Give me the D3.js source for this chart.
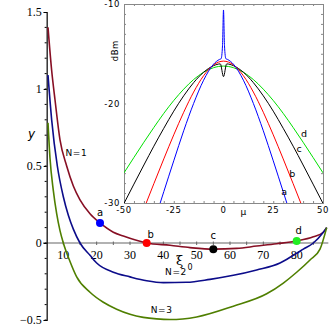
<!DOCTYPE html>
<html>
<head>
<meta charset="utf-8">
<script src="https://cdn.jsdelivr.net/npm/d3@7"></script>
<style>
  body { margin: 0; background: #fff; }
  svg { display: block; }
</style>
</head>
<body>
<div id="chart"></div>
<script>
// main plot: y vs xi_0 for N = 1, 2, 3
const xiN1 = [5.4, 6.5, 7.5, 9, 11, 13, 15, 18, 21, 25, 28, 35, 42, 48, 55, 62, 68, 74, 80, 85, 88, 89];
const yN1 = [1.4, 1.12, 0.93, 0.67, 0.5, 0.37, 0.28, 0.19, 0.13, 0.07, 0.045, 0, -0.015, -0.03, -0.04, -0.035, -0.02, -0.005, 0.013, 0.04, 0.07, 0.1];
const xiN2 = [5.4, 6.5, 8.2, 10, 11.5, 13, 15, 18, 20, 25, 30, 35, 40, 47, 54, 61, 68, 75, 79, 82, 85, 88, 89];
const yN2 = [1.09, 0.8, 0.5, 0.3, 0.18, 0.09, 0, -0.08, -0.13, -0.19, -0.22, -0.245, -0.257, -0.255, -0.236, -0.21, -0.175, -0.13, -0.08, -0.04, 0, 0.07, 0.1];
const xiN3 = [5.4, 6, 7, 8, 9, 10, 12, 14, 18, 22, 26, 30, 34, 38, 42, 50, 61, 71, 76, 80, 84, 87, 89];
const yN3 = [0.78, 0.55, 0.34, 0.19, 0.08, 0, -0.12, -0.22, -0.32, -0.385, -0.43, -0.463, -0.483, -0.493, -0.497, -0.48, -0.41, -0.33, -0.26, -0.19, -0.11, -0.04, 0.1];
const curveNames = ['N=1', 'N=2', 'N=3'];
const curveLabelXi = [13.9, 43.8, 39.5];
const curveLabelY = [0.58, -0.19, -0.44];

// marked points a-d on the N=1 curve
const pointNames = ['a', 'b', 'c', 'd'];
const pointXi = [21, 35, 55, 80];
const pointY = [0.13, 0.0, -0.04, 0.013];

const yTicks = [-0.5, 0, 0.5, 1, 1.5];
const xTicks = [10, 20, 30, 40, 50, 60, 70, 80];

// inset: spectra in dBm vs mu
const muA = [-35, -30, -25, -20, -15, -10, -5, -2, -1.2, -0.5, 0, 0.5, 1.2, 2, 5, 10, 15, 20, 25, 30, 35];
const dbA = [-32.0, -28.86, -25.76, -22.74, -19.99, -17.66, -16.05, -15.57, -15.5, -14.2, -10.6, -14.2, -15.5, -15.57, -16.05, -17.66, -19.99, -22.74, -25.76, -28.86, -32.0];
const muB = [-40, -35, -30, -25, -20, -15, -10, -5, 0, 5, 10, 15, 20, 25, 30, 35, 40];
const dbB = [-30.59, -28.06, -25.57, -23.15, -20.88, -18.85, -17.21, -16.12, -15.74, -16.12, -17.21, -18.85, -20.88, -23.15, -25.57, -28.06, -30.59];
const muC = [-50, -45, -40, -35, -30, -25, -20, -15, -10, -5, -1.6, 0, 1.6, 5, 10, 15, 20, 25, 30, 35, 40, 45, 50];
const dbC = [-30.04, -28.1, -26.18, -24.29, -22.49, -20.77, -19.23, -17.9, -16.86, -16.2, -16.02, -17.3, -16.02, -16.2, -16.86, -17.9, -19.23, -20.77, -22.49, -24.29, -26.18, -28.1, -30.04];
const muD = [-50, -45, -40, -35, -30, -25, -20, -15, -10, -5, 0, 5, 10, 15, 20, 25, 30, 35, 40, 45, 50];
const dbD = [-26.97, -25.42, -23.89, -22.41, -20.99, -19.7, -18.56, -17.59, -16.86, -16.4, -16.24, -16.4, -16.86, -17.59, -18.56, -19.7, -20.99, -22.41, -23.89, -25.42, -26.97];
const insetTicksX = [-50, -25, 0, 25, 50];
const insetTicksY = [-30, -20, -10];

const width = 332;
const height = 332;
const mainColors = ['#870f24', '#0c0c8a', '#4f7f00'];
const specColors = ['#0000ff', '#ff0000', '#000000', '#00e000'];
const pointColors = ['#0000ff', '#ff0000', '#000000', '#22ee22'];

const svg = d3.select('#chart').append('svg')
  .attr('width', width)
  .attr('height', height);

const x = d3.scaleLinear().domain([0, 90]).range([30, 330]);
const y = d3.scaleLinear().domain([-0.5, 1.5]).range([320, 12]);

// x axis along y = 0
const xAxis = svg.append('g')
  .attr('transform', `translate(0,${y(0)})`);
xAxis.append('line')
  .attr('x1', x(3.9)).attr('x2', x(89.5))
  .attr('stroke', '#666').attr('stroke-width', 1.2);
xAxis.selectAll('.minor')
  .data(d3.range(10, 90, 5))
  .join('line')
  .attr('x1', d => x(d)).attr('x2', d => x(d))
  .attr('y1', -1.5).attr('y2', 2)
  .attr('stroke', '#666');
xAxis.selectAll('text')
  .data(xTicks)
  .join('text')
  .attr('x', d => x(d))
  .attr('y', 16)
  .attr('text-anchor', 'middle')
  .style('font-family', 'Liberation Serif, serif')
  .style('font-size', '12px')
  .text(d => d);

// y axis
const yAxis = svg.append('g')
  .attr('transform', `translate(${x(5)},0)`)
  .call(d3.axisLeft(y).tickValues(yTicks).tickSize(3).tickPadding(2).tickFormat(d3.format('')));
yAxis.select('.domain').attr('stroke', '#000').attr('stroke-width', 1.2);
yAxis.selectAll('text')
  .style('font-family', 'Liberation Serif, serif')
  .style('font-size', '12px')
  .attr('fill', '#000');
yAxis.selectAll('.minor')
  .data(d3.range(-0.5, 1.5, 0.1))
  .join('line')
  .attr('x1', -2).attr('x2', 0)
  .attr('y1', d => y(d)).attr('y2', d => y(d))
  .attr('stroke', '#000');

svg.append('text')
  .attr('x', 28).attr('y', 138)
  .style('font-family', 'DejaVu Sans, sans-serif')
  .style('font-style', 'italic')
  .style('font-size', '12px')
  .text('y');

svg.append('text')
  .attr('x', 176).attr('y', 265)
  .style('font-family', 'DejaVu Serif, serif')
  .style('font-size', '13px')
  .text('ξ');
svg.append('text')
  .attr('x', 187.5).attr('y', 270)
  .style('font-family', 'DejaVu Sans, sans-serif')
  .style('font-size', '8px')
  .text('0');

// main curves
const mainSeries = [
  xiN1.map((v, i) => ({ xi: v, y: yN1[i] })),
  xiN2.map((v, i) => ({ xi: v, y: yN2[i] })),
  xiN3.map((v, i) => ({ xi: v, y: yN3[i] })),
];
const mainLine = d3.line()
  .x(d => x(d.xi))
  .y(d => y(d.y))
  .curve(d3.curveMonotoneX);

mainSeries.forEach((series, i) => {
  svg.append('path')
    .datum(series)
    .attr('fill', 'none')
    .attr('stroke', mainColors[i])
    .attr('stroke-width', 1.6)
    .attr('d', mainLine);

  svg.append('text')
    .attr('x', x(curveLabelXi[i]))
    .attr('y', y(curveLabelY[i]))
    .attr('text-anchor', 'middle')
    .attr('dominant-baseline', 'middle')
    .style('font-family', 'DejaVu Sans, sans-serif')
    .style('font-size', '9px')
    .style('letter-spacing', '0.6px')
    .text(curveNames[i]);
});

const labelDx = [0, 4, 0, 2];
const labelDy = [-10, -8, -13, -10];
pointNames.forEach((name, i) => {
  svg.append('circle')
    .attr('cx', x(pointXi[i]))
    .attr('cy', y(pointY[i]))
    .attr('r', 4)
    .attr('fill', pointColors[i]);
  svg.append('text')
    .attr('x', x(pointXi[i]) + labelDx[i])
    .attr('y', y(pointY[i]) + labelDy[i])
    .attr('text-anchor', 'middle')
    .attr('dominant-baseline', 'middle')
    .style('font-family', 'DejaVu Sans, sans-serif')
    .style('font-size', '10px')
    .text(name);
});

// inset
const xi = d3.scaleLinear().domain([-50, 50]).range([124, 323]);
const yi = d3.scaleLinear().domain([-30, -10]).range([203, 4]);

const inset = svg.append('g');
inset.append('rect')
  .attr('x', xi(-50)).attr('y', yi(-10))
  .attr('width', xi(50) - xi(-50))
  .attr('height', yi(-30) - yi(-10))
  .attr('fill', '#fff');

inset.append('clipPath').attr('id', 'insetClip')
  .append('rect')
  .attr('x', xi(-50)).attr('y', yi(-10))
  .attr('width', xi(50) - xi(-50))
  .attr('height', yi(-30) - yi(-10));

const frameAxes = [
  { axis: d3.axisBottom(xi), t: `translate(0,${yi(-30)})`, minor: d3.range(-50, 51, 5) },
  { axis: d3.axisTop(xi), t: `translate(0,${yi(-10)})`, minor: d3.range(-50, 51, 5) },
  { axis: d3.axisLeft(yi), t: `translate(${xi(-50)},0)`, minor: d3.range(-30, -9, 1) },
  { axis: d3.axisRight(yi), t: `translate(${xi(50)},0)`, minor: d3.range(-30, -9, 1) },
];
frameAxes.forEach(f => {
  const g = inset.append('g')
    .attr('transform', f.t)
    .call(f.axis.tickValues(f.minor).tickSize(-2).tickFormat(''));
  g.select('.domain').attr('stroke', '#888');
  g.selectAll('.tick line').attr('stroke', '#888');
});

inset.selectAll('.xlab')
  .data(insetTicksX)
  .join('text')
  .attr('x', d => xi(d))
  .attr('y', yi(-30) + 10)
  .attr('text-anchor', 'middle')
  .style('font-family', 'DejaVu Sans, sans-serif')
  .style('font-size', '8.5px')
  .style('letter-spacing', '0.6px')
  .text(d => d);
inset.selectAll('.ylab')
  .data(insetTicksY)
  .join('text')
  .attr('x', xi(-50) - 4)
  .attr('y', d => yi(d) + 3)
  .attr('text-anchor', 'end')
  .style('font-family', 'DejaVu Sans, sans-serif')
  .style('font-size', '8.5px')
  .style('letter-spacing', '0.6px')
  .text(d => d);

inset.append('text')
  .attr('transform', `translate(${xi(-50) - 6},${yi(-14.7)}) rotate(-90)`)
  .attr('text-anchor', 'middle')
  .style('font-family', 'DejaVu Sans, sans-serif')
  .style('font-size', '8.5px')
  .style('letter-spacing', '0.5px')
  .text('dBm');
inset.append('text')
  .attr('x', xi(10)).attr('y', yi(-30) + 12)
  .attr('text-anchor', 'middle')
  .style('font-family', 'DejaVu Sans, sans-serif')
  .style('font-size', '9px')
  .text('μ');

const specSeries = [
  muA.map((v, i) => ({ mu: v, db: dbA[i] })),
  muB.map((v, i) => ({ mu: v, db: dbB[i] })),
  muC.map((v, i) => ({ mu: v, db: dbC[i] })),
  muD.map((v, i) => ({ mu: v, db: dbD[i] })),
];
const specLine = d3.line()
  .x(d => xi(d.mu))
  .y(d => yi(d.db))
  .curve(d3.curveMonotoneX);

// draw broad ones first so the blue spike sits on top
[3, 2, 1, 0].forEach(i => {
  inset.append('path')
    .datum(specSeries[i])
    .attr('clip-path', 'url(#insetClip)')
    .attr('fill', 'none')
    .attr('stroke', specColors[i])
    .attr('stroke-width', 1)
    .attr('d', specLine);
});

const specLabelMu = [30.5, 34.5, 38, 40.5];
const specLabelDb = [-28.9, -27.1, -24.6, -23.1];
pointNames.forEach((name, i) => {
  inset.append('text')
    .attr('x', xi(specLabelMu[i]))
    .attr('y', yi(specLabelDb[i]))
    .attr('text-anchor', 'middle')
    .attr('dominant-baseline', 'middle')
    .style('font-family', 'DejaVu Sans, sans-serif')
    .style('font-size', '9.5px')
    .text(name);
});
</script>
</body>
</html>
